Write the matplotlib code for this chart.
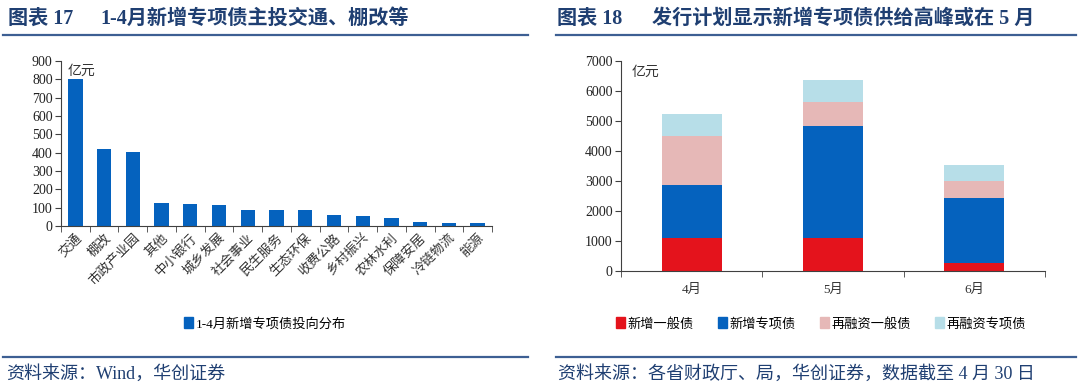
import numpy as np
import matplotlib.pyplot as plt
from matplotlib.lines import Line2D
from matplotlib.patches import Patch

plt.rcParams['font.family'] = ['Liberation Serif', 'Noto Sans CJK SC', 'DejaVu Sans']

# left chart: 1-4月新增专项债投向分布 (亿元)
sectors = ['交通', '棚改', '市政产业园', '其他', '中小银行', '城乡发展', '社会事业', '民生服务',
           '生态环保', '收费公路', '乡村振兴', '农林水利', '保障安居', '冷链物流', '能源']
sector_vals = [800, 422, 405, 123, 122, 116, 85, 85, 85, 60, 55, 42, 24, 18, 15]

# right chart: 发行计划 (亿元)
months = ['4月', '5月', '6月']
new_general = [1110, 1110, 280]
new_special = [1746, 3733, 2142]
refi_general = [1644, 789, 567]
refi_special = [744, 723, 533]

W, H = 1080, 387
title_color = '#1f3f72'
line_color = '#3d5f93'
blue = '#0562be'
red = '#e4131c'
pink = '#e6b8b7'
lightblue = '#b7dee8'

fig = plt.figure(figsize=(W / 100, H / 100), dpi=100)


def px_axes(left, top, right, bottom):
    return fig.add_axes([left / W, 1 - bottom / H, (right - left) / W, (bottom - top) / H])


def style_axes(ax, n):
    for s in ['top', 'right']:
        ax.spines[s].set_visible(False)
    for s in ['left', 'bottom']:
        ax.spines[s].set_color('#404040')
        ax.spines[s].set_linewidth(0.8)
    ax.set_xlim(-0.5, n - 0.5)
    ax.set_xticks(np.arange(n))
    ax.set_xticks(np.arange(n + 1) - 0.5, minor=True)
    ax.tick_params(axis='x', which='major', length=0, pad=4)
    ax.tick_params(axis='x', which='minor', length=4, color='#404040', direction='out')
    ax.tick_params(axis='y', length=4, color='#404040', labelsize=10, pad=2, labelcolor='#222222')


# ---- left chart
ax1 = px_axes(61, 61, 492, 226)
x1 = np.arange(len(sectors))
ax1.bar(x1, sector_vals, width=0.5, color=blue, zorder=2)
style_axes(ax1, len(sectors))
ax1.set_ylim(0, 900)
ax1.set_yticks(range(0, 901, 100))
ax1.set_xticklabels(sectors, rotation=45, ha='right', rotation_mode='anchor',
                    fontsize=9.5, color='#333333')
ax1.text(0.015, 0.975, '亿元', transform=ax1.transAxes, fontsize=10, color='#333333',
         ha='left', va='top')

# ---- right chart
ax2 = px_axes(621, 61, 1045, 271)
x2 = np.arange(len(months))
bw = 0.425
ax2.bar(x2, new_general, width=bw, color=red, zorder=2)
bottom = np.array(new_general)
ax2.bar(x2, new_special, width=bw, bottom=bottom, color=blue, zorder=2)
bottom = bottom + np.array(new_special)
ax2.bar(x2, refi_general, width=bw, bottom=bottom, color=pink, zorder=2)
bottom = bottom + np.array(refi_general)
ax2.bar(x2, refi_special, width=bw, bottom=bottom, color=lightblue, zorder=2)
style_axes(ax2, len(months))
ax2.set_ylim(0, 7000)
ax2.set_yticks(range(0, 7001, 1000))
ax2.set_xticklabels(months, fontsize=9.5, color='#333333')
ax2.tick_params(axis='x', which='major', pad=9)
ax2.text(0.025, 0.975, '亿元', transform=ax2.transAxes, fontsize=10, color='#333333',
         ha='left', va='top')

# ---- titles and rules
title_kw = dict(fontsize=14.5, fontweight='bold', color=title_color, va='center', ha='left')
fig.text(8 / W, 1 - 19 / H, '图表 17', **title_kw)
fig.text(100 / W, 1 - 19 / H, '1-4月新增专项债主投交通、棚改等', **title_kw)
fig.text(557 / W, 1 - 19 / H, '图表 18', **title_kw)
fig.text(652 / W, 1 - 19 / H, '发行计划显示新增专项债供给高峰或在 5 月', **title_kw)
for xa, xb in [(3, 528), (556, 1076)]:
    fig.add_artist(Line2D([xa / W, xb / W], [1 - 35 / H] * 2, color=line_color, lw=1.6))
    fig.add_artist(Line2D([xa / W, xb / W], [1 - 357 / H] * 2, color=line_color, lw=1.6))

fig.text(6 / W, 1 - 374 / H, '资料来源：Wind，华创证券', fontsize=13, color=title_color,
         va='center', ha='left')
fig.text(558 / W, 1 - 374 / H, '资料来源：各省财政厅、局，华创证券，数据截至 4 月 30 日', fontsize=13,
         color=title_color, va='center', ha='left')

# ---- legends
leg_kw = dict(frameon=False, fontsize=9.5, handlelength=0.7, handleheight=0.9, handletextpad=0.2)
fig.legend(handles=[Patch(color=blue, label='1-4月新增专项债投向分布')],
           loc='center', bbox_to_anchor=(265 / W, 1 - 324 / H), **leg_kw)
fig.legend(handles=[Patch(color=red, label='新增一般债'), Patch(color=blue, label='新增专项债'),
                    Patch(color=pink, label='再融资一般债'), Patch(color=lightblue, label='再融资专项债')],
           loc='center', bbox_to_anchor=(821 / W, 1 - 324 / H), ncol=4, columnspacing=1.8, **leg_kw)

fig.savefig('out.png', dpi=100)
